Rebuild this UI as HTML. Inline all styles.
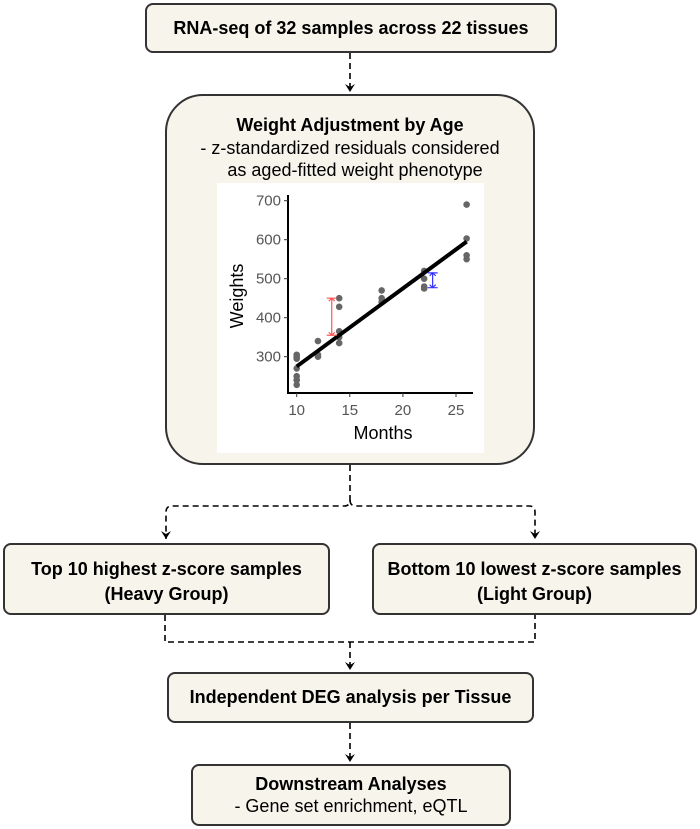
<!DOCTYPE html>
<html><head><style>
body{margin:0;width:700px;height:829px;background:#fff;font-family:"Liberation Sans",sans-serif;position:relative;overflow:hidden}
.box{position:absolute;box-sizing:border-box;background:#f7f4eb;border:2px solid #333;border-radius:8px;text-align:center;color:#000;font-size:18px;white-space:nowrap}
b{font-weight:bold}
</style></head><body>
<svg width="700" height="829" style="position:absolute;left:0;top:0">
<defs><marker id="ah" markerWidth="12" markerHeight="12" refX="9" refY="6" orient="auto" markerUnits="userSpaceOnUse"><path d="M1,1 L9,6 L1,11 L4,6 Z" fill="#000"/></marker></defs>
<g stroke="#000" stroke-width="1.6" stroke-dasharray="6,4" fill="none">
<path d="M350,53 V92" marker-end="url(#ah)"/>
<path d="M350,465 V500 Q350,506 344,506 H172 Q166,506 166,512 V539" marker-end="url(#ah)"/>
<path d="M350,500 Q350,506 356,506 H529 Q535,506 535,512 V539" marker-end="url(#ah)"/>
<path d="M165,615 V642 H535 V615"/>
<path d="M350,642 V670" marker-end="url(#ah)"/>
<path d="M350,723 V762" marker-end="url(#ah)"/>
</g></svg>
<div class="box" style="left:145px;top:3px;width:412px;height:50px;line-height:46px"><b>RNA-seq of 32 samples across 22 tissues</b></div>
<div class="box" style="left:165px;top:94px;width:370px;height:371px;border-radius:38px;padding-top:18px;line-height:22.5px">
<b>Weight Adjustment by Age</b><br>- z-standardized residuals considered<br>&nbsp;&nbsp;as aged-fitted weight phenotype</div>
<svg id="chart" width="267" height="270" style="position:absolute;left:217px;top:183px;background:#fff"></svg>
<div class="box" style="left:3px;top:543px;width:327px;height:72px;padding-top:12px;line-height:25px"><b>Top 10 highest z-score samples<br>(Heavy Group)</b></div>
<div class="box" style="left:372px;top:543px;width:325px;height:72px;padding-top:12px;line-height:25px"><b>Bottom 10 lowest z-score samples<br>(Light Group)</b></div>
<div class="box" style="left:167px;top:672px;width:367px;height:51px;line-height:47px"><b>Independent DEG analysis per Tissue</b></div>
<div class="box" style="left:191px;top:764px;width:320px;height:62px;padding-top:7px;line-height:22px"><b>Downstream Analyses</b><br>- Gene set enrichment, eQTL</div>
<script>
const months=[10,10,10,10,10,10,10,12,12,12,14,14,14,14,14,18,18,18,22,22,22,22,26,26,26,26];
const weights=[305,300,295,270,250,240,228,340,305,300,450,428,365,350,335,470,450,440,520,500,480,475,690,603,560,550];
const fitLine=[[10,275],[26,595]];
const xTicks=[10,15,20,25];
const yTicks=[300,400,500,600,700];
const redBar=[13.3,355,450];
const blueBar=[22.8,477,515];
const ox=217,oy=183;
const X=m=>296.7+(m-10)*10.62-ox;
const Y=v=>200.7+(700-v)*0.39-oy;
const s=document.getElementById('chart');
const NS='http://www.w3.org/2000/svg';
function mk(t,a){const e=document.createElementNS(NS,t);for(const k in a)e.setAttribute(k,a[k]);s.appendChild(e);return e;}
let e=mk('path',{d:`M${288-ox},${195-oy} V${393-oy} H${473-ox}`,stroke:'#000','stroke-width':2,fill:'none'});

yTicks.forEach(v=>{mk('line',{x1:284-ox,x2:288-ox,y1:Y(v),y2:Y(v),stroke:'#333'});
 const t=mk('text',{x:281-ox,y:Y(v)+5,'text-anchor':'end','font-size':15,fill:'#555'});t.textContent=v;
 });
xTicks.forEach(v=>{mk('line',{x1:X(v),x2:X(v),y1:393-oy,y2:397-oy,stroke:'#333'});
 const t=mk('text',{x:X(v),y:415-oy,'text-anchor':'middle','font-size':15,fill:'#555'});t.textContent=v;
 });
let t=mk('text',{x:383-ox,y:439-oy,'text-anchor':'middle','font-size':18});t.textContent='Months';

t=mk('text',{x:0,y:0,'text-anchor':'middle','font-size':18,transform:`translate(${243-ox},${296-oy}) rotate(-90)`});t.textContent='Weights';

months.forEach((m,i)=>{const c=mk('circle',{cx:X(m),cy:Y(weights[i]),r:3.3,fill:'#666'});
 });
e=mk('line',{x1:X(fitLine[0][0]),y1:Y(fitLine[0][1]),x2:X(fitLine[1][0]),y2:Y(fitLine[1][1]),stroke:'#000','stroke-width':4});

[[redBar,'#f55'],[blueBar,'#33f']].forEach(([b,c])=>{const x=X(b[0]);
 const g=mk('path',{d:`M${x},${Y(b[1])} V${Y(b[2])} M${x-5},${Y(b[1])} H${x+5} M${x-5},${Y(b[2])} H${x+5} M${x-3},${Y(b[2])+3} L${x},${Y(b[2])} L${x+3},${Y(b[2])+3} M${x-3},${Y(b[1])-3} L${x},${Y(b[1])} L${x+3},${Y(b[1])-3}`,stroke:c,'stroke-width':1.2,fill:'none'});
 });
</script>
</body></html>
